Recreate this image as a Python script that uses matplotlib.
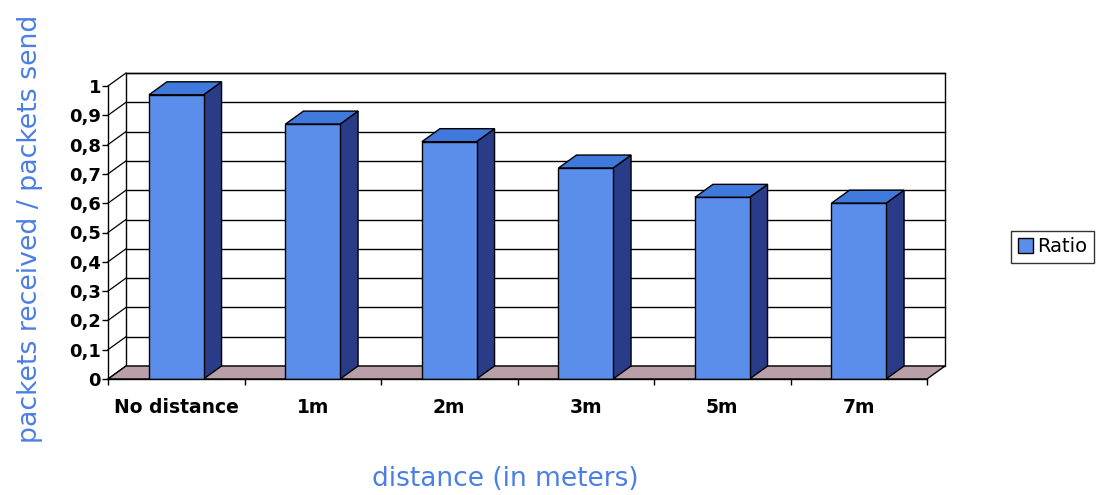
import numpy as np
import matplotlib
matplotlib.use("Agg")
import matplotlib.pyplot as plt
from matplotlib.patches import Polygon, Patch

# data
categories = ["No distance", "1m", "2m", "3m", "5m", "7m"]
ratio = [0.97, 0.87, 0.81, 0.72, 0.62, 0.60]
yticks = [0, 0.1, 0.2, 0.3, 0.4, 0.5, 0.6, 0.7, 0.8, 0.9, 1.0]
ytick_labels = ["0", "0,1", "0,2", "0,3", "0,4", "0,5", "0,6", "0,7", "0,8", "0,9", "1"]

front_col = "#5A8EEA"
top_col = "#4079DC"
side_col = "#2A3C88"
floor_col = "#B89FA8"
label_col = "#4A7FE3"

W, H = 1096, 495
fig = plt.figure(figsize=(W / 100, H / 100), dpi=100)

# front plane of the 3d box in pixels
x0, x1 = 108, 927
y0, y1 = 379, 86
ax = fig.add_axes([x0 / W, 1 - y0 / H, (x1 - x0) / W, (y0 - y1) / H])
n = len(categories)
ax.set_xlim(-0.5, n - 0.5)
ax.set_ylim(0, 1)

# depth offset (18 px right, 13 px up) in data units
dx = 18 / ((x1 - x0) / n)
dy = 13 / (y0 - y1)

kw = dict(clip_on=False, lw=1.0, edgecolor="black")

# back wall + gridlines
ax.add_patch(Polygon([(-0.5 + dx, dy), (n - 0.5 + dx, dy), (n - 0.5 + dx, 1 + dy),
                      (-0.5 + dx, 1 + dy)], facecolor="white", zorder=1, **kw))
for v in yticks[1:]:
    ax.plot([-0.5 + dx, n - 0.5 + dx], [v + dy, v + dy], color="black", lw=1.0,
            clip_on=False, zorder=1.5)
# slanted lines on the left side
for v in yticks:
    ax.plot([-0.5, -0.5 + dx], [v, v + dy], color="black", lw=0.9, clip_on=False, zorder=1.5)

# floor
ax.add_patch(Polygon([(-0.5, 0), (n - 0.5, 0), (n - 0.5 + dx, dy), (-0.5 + dx, dy)],
                     facecolor=floor_col, zorder=2, **kw))

# bars
x = np.arange(n)
w = 0.4
ax.bar(x, ratio, width=w, color=front_col, edgecolor="black", lw=1.0, zorder=4)
for xi, v in zip(x, ratio):
    r = xi + w / 2
    l = xi - w / 2
    ax.add_patch(Polygon([(r, 0), (r + dx, dy), (r + dx, v + dy), (r, v)],
                         facecolor=side_col, zorder=3, **kw))
    ax.add_patch(Polygon([(l, v), (r, v), (r + dx, v + dy), (l + dx, v + dy)],
                         facecolor=top_col, zorder=3, **kw))

# axes styling
for s in ["top", "right"]:
    ax.spines[s].set_visible(False)
ax.spines["left"].set_linewidth(1.0)
ax.spines["bottom"].set_linewidth(1.0)
ax.spines["left"].set_zorder(5)
ax.spines["bottom"].set_zorder(5)
ax.set_facecolor("none")

ax.set_yticks(yticks, ytick_labels)
ax.tick_params(axis="y", length=4, width=1, pad=1, labelsize=13)
for t in ax.get_yticklabels():
    t.set_fontweight("bold")

ax.set_xticks(x, categories)
ax.set_xticks(np.arange(-0.5, n, 1.0), minor=True)
ax.tick_params(axis="x", which="major", length=0, pad=14, labelsize=13.5)
ax.tick_params(axis="x", which="minor", length=4, width=1)
for t in ax.get_xticklabels():
    t.set_fontweight("bold")

fig.text(30 / W, 1 - 229 / H, "packets received / packets send", rotation=90,
         ha="center", va="center", fontsize=19.3, color=label_col)
fig.text(505 / W, 1 - 479 / H, "distance (in meters)", ha="center", va="center",
         fontsize=19, color=label_col)

leg = fig.legend(handles=[Patch(facecolor=front_col, edgecolor="black", label="Ratio")],
                 loc="center left", bbox_to_anchor=(1011 / W, 1 - 247 / H),
                 frameon=True, fancybox=False, fontsize=14, handlelength=0.8,
                 handleheight=0.8, handletextpad=0.2, borderpad=0.35, borderaxespad=0)
leg.get_frame().set_edgecolor("black")
leg.get_frame().set_linewidth(1.0)

fig.savefig("out.png", dpi=100)
